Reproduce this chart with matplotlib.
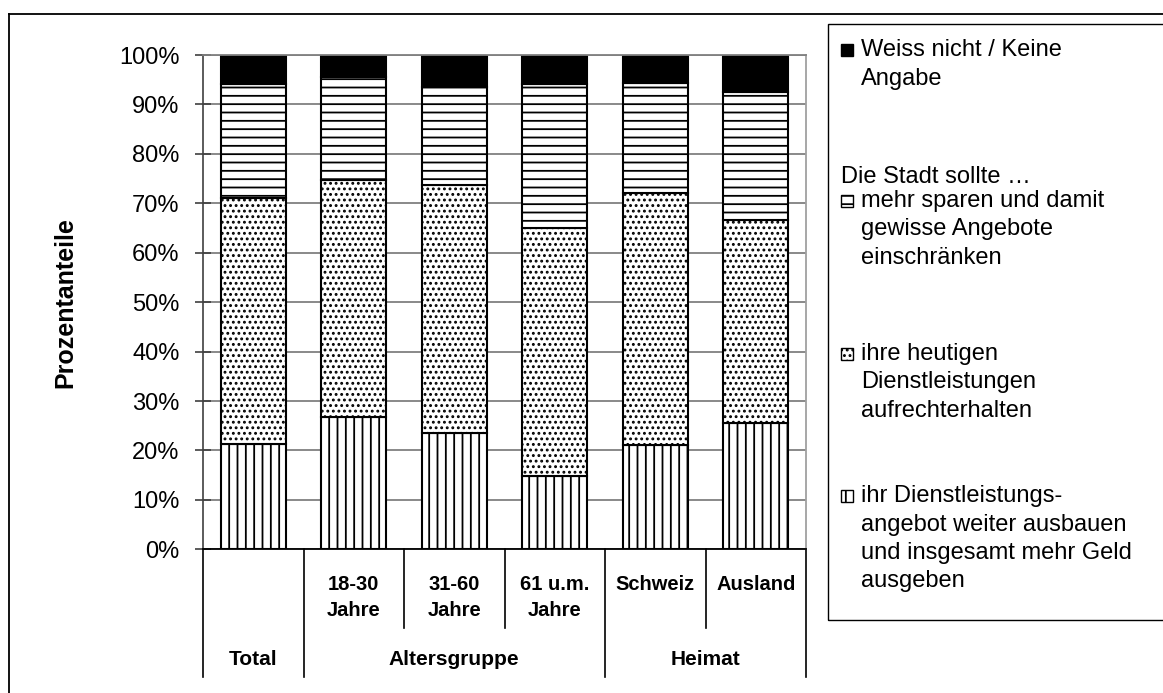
import numpy as np
import matplotlib
matplotlib.use("Agg")
import matplotlib.pyplot as plt
from matplotlib.patches import Rectangle
from matplotlib.lines import Line2D
from matplotlib.ticker import PercentFormatter, MultipleLocator
from matplotlib.transforms import blended_transform_factory

plt.rcParams['font.family'] = ['Liberation Sans', 'DejaVu Sans']
plt.rcParams['hatch.linewidth'] = 1.3

# categories (sub labels) and groups below the axis
sub_labels = ["", "18-30\nJahre", "31-60\nJahre", "61 u.m.\nJahre", "Schweiz", "Ausland"]
group_labels = ["Total", "Altersgruppe", "Heimat"]
group_first = [0, 1, 4]
group_last = [0, 3, 5]

# shares in percent, bottom to top
ausbauen = [21.4, 26.7, 23.5, 14.8, 21.0, 25.5]
aufrechterhalten = [49.7, 48.0, 50.2, 50.3, 51.0, 41.1]
sparen = [23.0, 20.9, 19.9, 29.0, 22.3, 26.0]
weiss_nicht = [5.9, 4.4, 6.4, 5.9, 5.7, 7.4]

W, H = 1163, 693
fig = plt.figure(figsize=(W / 100, H / 100), dpi=100)
ax = fig.add_axes([203 / W, 1 - 549.3 / H, (806 - 203) / W, (549.3 - 55) / H])

x = np.arange(len(sub_labels))
series = [ausbauen, aufrechterhalten, sparen, weiss_nicht]
hatches = ['||', '...', '--', None]
faces = ['white', 'white', 'white', 'black']
bottom = np.zeros(len(x))
for vals, hatch, face in zip(series, hatches, faces):
    ax.bar(x, vals, 0.65, bottom=bottom, color=face, edgecolor='black',
           linewidth=1.5, hatch=hatch, zorder=2)
    bottom += np.array(vals)

ax.set_xlim(-0.5, len(x) - 0.5)
ax.set_ylim(0, 100)
ax.yaxis.set_major_locator(MultipleLocator(10))
ax.yaxis.set_major_formatter(PercentFormatter(decimals=0))
ax.yaxis.grid(True, color='#808080', linewidth=1.3)
ax.set_axisbelow(True)
ax.set_xticks([])
ax.tick_params(axis='y', direction='inout', length=12, width=1.2,
               color='#404040', labelsize=17, pad=11)
ax.spines['left'].set_color('#404040')
ax.spines['left'].set_linewidth(1.2)
ax.spines['right'].set_color('#a0a0a0')
ax.spines['right'].set_linewidth(1.3)
ax.spines['top'].set_color('#808080')
ax.spines['top'].set_linewidth(1.3)
ax.spines['bottom'].set_color('black')
ax.spines['bottom'].set_linewidth(1.3)
ax.set_ylabel("Prozentanteile", fontsize=18, fontweight='bold', labelpad=30)

# category table below the plot
tr = blended_transform_factory(ax.transData, ax.transAxes)
short_end, long_end = -0.16, -0.258
edges = np.arange(len(x) + 1) - 0.5
long_edges = set([group_first[0] - 0.5] + [g + 0.5 for g in group_last])
for e in edges:
    end = long_end if e in long_edges else short_end
    ax.plot([e, e], [0, end], color='black', lw=1.2, transform=tr, clip_on=False)
for xi, lab in zip(x, sub_labels):
    ax.text(xi, -0.052, lab, transform=tr, ha='center', va='top',
            fontsize=14.5, fontweight='bold', linespacing=1.45)
for lab, a, b in zip(group_labels, group_first, group_last):
    ax.text((a + b) / 2, -0.222, lab, transform=tr, ha='center', va='center',
            fontsize=15, fontweight='bold')

# outer frame (cut off at right and bottom)
fig.add_artist(Line2D([9 / W, 9 / W], [0, 1 - 14 / H], color='black', lw=1.3))
fig.add_artist(Line2D([9 / W, 1], [1 - 14 / H, 1 - 14 / H], color='black', lw=1.3))

# legend box
fig.add_artist(Rectangle((828 / W, 1 - 620 / H), 0.3, (620 - 24) / H,
                         transform=fig.transFigure, facecolor='none',
                         edgecolor='black', lw=1.0))

legend_entries = [
    (56, None, 'black', ["Weiss nicht / Keine", "Angabe"]),
    (207, '--', 'white', ["mehr sparen und damit", "gewisse Angebote", "einschränken"]),
    (360, '...', 'white', ["ihre heutigen", "Dienstleistungen", "aufrechterhalten"]),
    (502, '||', 'white', ["ihr Dienstleistungs-", "angebot weiter ausbauen",
                          "und insgesamt mehr Geld", "ausgeben"]),
]
line_gap = 28.5
for base, hatch, face, lines in legend_entries:
    fig.add_artist(Rectangle((841 / W, 1 - base / H), 12 / W, 12 / H,
                             transform=fig.transFigure, facecolor=face,
                             edgecolor='black', lw=1.0, hatch=hatch))
    for i, line in enumerate(lines):
        fig.text(861 / W, 1 - (base + i * line_gap) / H, line, ha='left',
                 va='baseline', fontsize=17)
fig.text(841 / W, 1 - 183 / H, "Die Stadt sollte \u2026", ha='left',
         va='baseline', fontsize=17)

fig.savefig("out.png", dpi=100)
